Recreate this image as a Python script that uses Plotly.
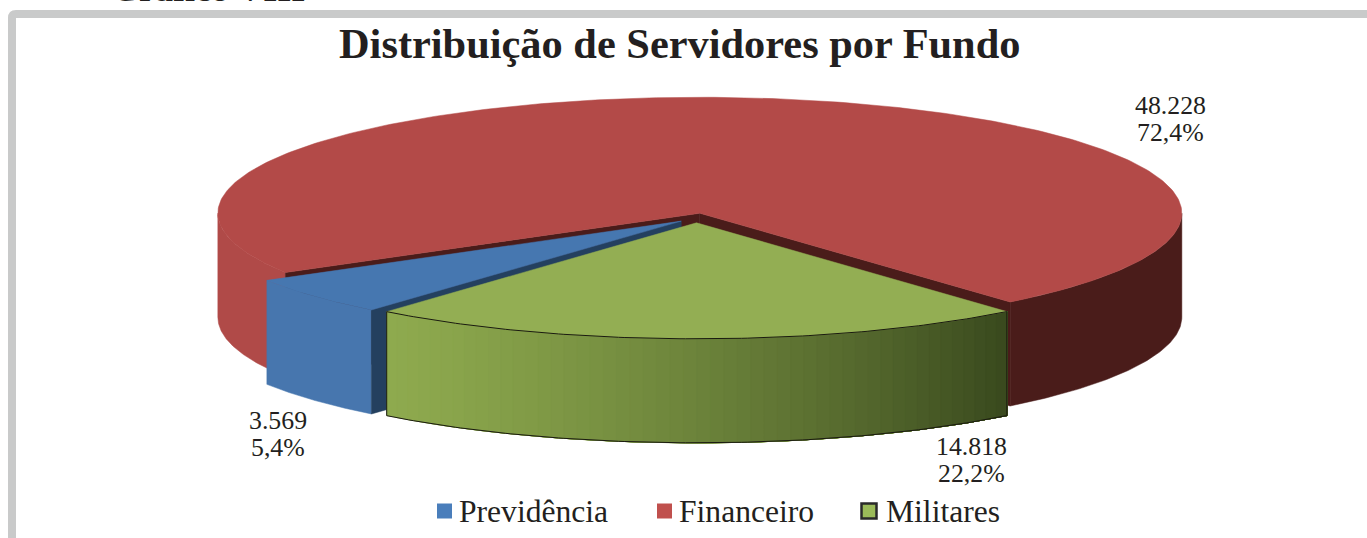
import math
import plotly.graph_objects as go

# ---- data ----
categories = ["Previdência", "Financeiro", "Militares"]
values = [3569, 48228, 14818]
value_labels = ["3.569", "48.228", "14.818"]
percent_labels = ["5,4%", "72,4%", "22,2%"]

# ---- style / layout ----
W, H = 1367, 538
CX, CY = 696.5, 218.0     # pie centre
RX, RY = 482.0, 116.0     # ellipse radii of the top face
DEPTH = 104.0             # wall height
EXPLODE = 20.0            # slice explosion along the ellipse
START = 130.0             # first slice angle (clockwise on screen, 0 = east)
top_colors = ["#4677B0", "#B34A48", "#93AE53"]
cut_colors = ["#24405F", "#4A1C1A", "#3A4A1E"]
swatch = ["#4A7EBB", "#C0504D", "#9BBB59"]
FONT = "Liberation Serif"
INK = "#231F20"

total = sum(values)
angles = []
a = START
for v in values:
    angles.append((a, a + v / total * 360.0))
    a += v / total * 360.0


def offset(a0, a1):
    m = math.radians((a0 + a1) / 2)
    return CX + EXPLODE * math.cos(m), CY + EXPLODE * RY / RX * math.sin(m)


def arc(ox, oy, a0, a1, n=120):
    pts = []
    for i in range(n + 1):
        t = math.radians(a0 + (a1 - a0) * i / n)
        pts.append((ox + RX * math.cos(t), oy + RY * math.sin(t)))
    return pts


def mix(c1, c2, t):
    a_ = [int(c1[i:i + 2], 16) for i in (1, 3, 5)]
    b_ = [int(c2[i:i + 2], 16) for i in (1, 3, 5)]
    return "#%02x%02x%02x" % tuple(round(p + (q - p) * t) for p, q in zip(a_, b_))


fig = go.Figure()


def poly(pts, color, name=""):
    xs = [p[0] for p in pts] + [pts[0][0]]
    ys = [p[1] for p in pts] + [pts[0][1]]
    fig.add_trace(go.Scatter(
        x=xs, y=ys, mode="lines", fill="toself", fillcolor=color,
        line=dict(color=color, width=0.5),
        hoverinfo="skip", showlegend=False, name=name))


def wall(ox, oy, a0, a1, color):
    top = arc(ox, oy, a0, a1, 100)
    poly(top + [(x, y + DEPTH) for x, y in reversed(top)], color)


def cut(ox, oy, ang, color):
    t = math.radians(ang)
    e = (ox + RX * math.cos(t), oy + RY * math.sin(t))
    poly([(ox, oy), e, (e[0], e[1] + DEPTH), (ox, oy + DEPTH)], color)


# Financeiro (back)
a0, a1 = angles[1]
ox, oy = offset(a0, a1)
wall(ox, oy, a0, 180, "#B04A48")
wall(ox, oy, 360, a1, "#4A1C1A")
cut(ox, oy, a0, cut_colors[1])
cut(ox, oy, a1, cut_colors[1])
poly([(ox, oy)] + arc(ox, oy, a0, a1, 300), top_colors[1])

# Previdência
a0, a1 = angles[0]
ox, oy = offset(a0, a1)
wall(ox, oy, a0, a1, "#4776AE")
cut(ox, oy, a0, cut_colors[0])
poly([(ox, oy)] + arc(ox, oy, a0, a1, 40), top_colors[0])

# Militares (front): painted left to right, each band running to the right end, so no seams
a0, a1 = angles[2]
a0 -= 360
a1 -= 360
ox, oy = offset(a0, a1)
BANDS = 50
for i in range(BANDS):
    t = i / (BANDS - 1)
    s0 = a1 + (a0 - a1) * i / BANDS
    top = arc(ox, oy, s0, a0, 40)
    poly(top + [(x, y + DEPTH) for x, y in reversed(top)], mix("#8EAA4E", "#3A4A1E", t ** 1.3))
poly([(ox, oy)] + arc(ox, oy, a0, a1, 120), top_colors[2])
# thin outlines of the front slice
edge = arc(ox, oy, a0, a1, 120)
for pts in (edge, [(x, y + DEPTH) for x, y in edge],
            [edge[0], (edge[0][0], edge[0][1] + DEPTH)],
            [edge[-1], (edge[-1][0], edge[-1][1] + DEPTH)]):
    fig.add_trace(go.Scatter(x=[p[0] for p in pts], y=[p[1] for p in pts], mode="lines",
                             line=dict(color="#1a1a10", width=1), hoverinfo="skip", showlegend=False))

annotations = []

# Legend row
legend_x = [444.5, 664.5, 869]
legend_text_x = [457, 677, 884]
for name, col, lx, tx, i in zip(categories, swatch, legend_x, legend_text_x, range(3)):
    fig.add_trace(go.Scatter(
        x=[lx], y=[511], mode="markers", name=name, showlegend=False,
        marker=dict(symbol="square", size=15, color=col,
                    line=dict(color="#2a2a2a", width=2.5 if i == 2 else 0)),
        hoverinfo="skip"))
    annotations.append(dict(x=tx, y=511, xref="x", yref="y", xanchor="left", showarrow=False,
                            text=name, font=dict(family=FONT, size=31.6, color=INK)))

# Value labels (two separate lines, the line pitch is tighter than the browser default)
label_pos = [(278, 420), (1170, 105), (971, 446)]
for p, v, s in zip(label_pos, value_labels, percent_labels):
    for dy, txt in ((0, v), (27, s)):
        annotations.append(dict(x=p[0], y=p[1] + dy, xref="x", yref="y", showarrow=False,
                                text=txt, font=dict(family=FONT, size=25.8, color=INK)))
annotations.append(dict(x=679.5, y=43, xref="x", yref="y", showarrow=False,
                        text="<b>Distribuição de Servidores por Fundo</b>",
                        font=dict(family=FONT, size=42.4, color=INK)))
# Heading of the page above the chart, cut by the top edge of the picture as in the reference
annotations.append(dict(x=208, y=1, xref="x", yref="paper", yanchor="middle", yshift=11,
                        showarrow=False, text="<b>Gráfico VIII</b>",
                        font=dict(family=FONT, size=36, color=INK)))

shapes = [
    dict(type="path", xref="x", yref="y", layer="below",
         path=f"M 12 {H+20} L 12 18 Q 12 14 16 14 L {W+20} 14",
         line=dict(color="#C9CACA", width=8), fillcolor="rgba(0,0,0,0)"),
]

fig.update_layout(
    width=W, height=H, margin=dict(l=0, r=0, t=0, b=0),
    paper_bgcolor="white", plot_bgcolor="white", showlegend=False,
    xaxis=dict(range=[0, W], visible=False, fixedrange=True),
    yaxis=dict(range=[H, 0], visible=False, fixedrange=True),
    annotations=annotations, shapes=shapes,
)
fig.write_html("out.html", config={"displayModeBar": False},
               post_script="document.body.style.margin='0';document.body.style.overflow='hidden';")
